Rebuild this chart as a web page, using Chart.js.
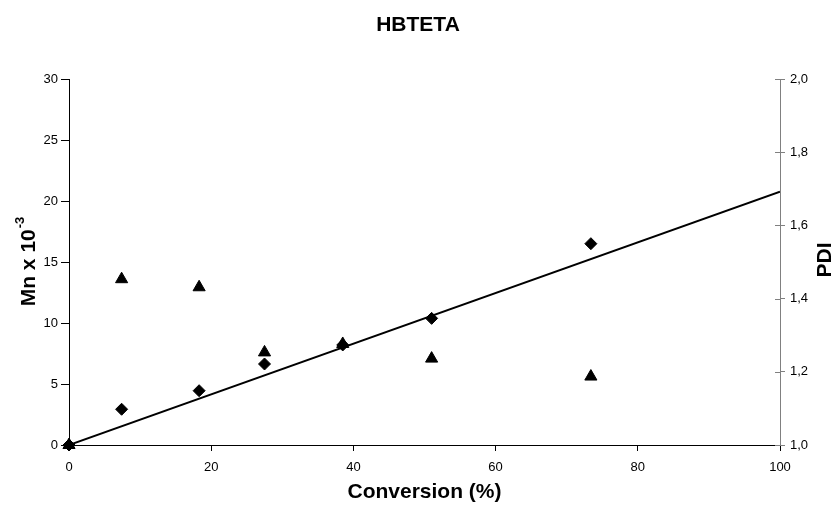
<!DOCTYPE html>
<html>
<head>
<meta charset="utf-8">
<script src="https://cdn.jsdelivr.net/npm/chart.js@4.4.0/dist/chart.umd.min.js"></script>
<style>
  body { margin: 0; background: #fff; }
  canvas { display: block; }
</style>
</head>
<body>
<canvas id="myChart" width="836" height="507"></canvas>
<script>
// data
const conversion = [0, 7.4, 18.3, 27.5, 38.5, 51.0, 73.4];
const mnValues = [0, 2.93, 4.45, 6.64, 8.2, 10.38, 16.5];
const pdiValues = [1.0, 1.453, 1.431, 1.253, 1.276, 1.236, 1.187];
const trendX = [0, 100];
const trendY = [0, 20.76];

const FONT = '"Liberation Sans", Arial, sans-serif';

// y axis titles (left one needs a superscript, right one reads bottom-up)
const axisTitles = {
    id: 'axisTitles',
    afterDraw(chart) {
        const ctx = chart.ctx;
        const area = chart.chartArea;
        const midY = (area.top + area.bottom) / 2;
        ctx.save();
        ctx.fillStyle = '#000';
        ctx.textBaseline = 'middle';
        ctx.textAlign = 'left';

        ctx.save();
        ctx.translate(29, midY);
        ctx.rotate(-Math.PI / 2);
        ctx.font = 'bold 21px ' + FONT;
        const main = 'Mn x 10';
        const w1 = ctx.measureText(main).width;
        ctx.font = 'bold 13px ' + FONT;
        const w2 = ctx.measureText('-3').width;
        const x0 = -(w1 + w2) / 2;
        ctx.font = 'bold 21px ' + FONT;
        ctx.fillText(main, x0, 0);
        ctx.font = 'bold 13px ' + FONT;
        ctx.fillText('-3', x0 + w1 + 1, -9);
        ctx.restore();

        ctx.save();
        ctx.translate(825, midY - 2);
        ctx.rotate(-Math.PI / 2);
        ctx.font = 'bold 21px ' + FONT;
        ctx.textAlign = 'center';
        ctx.fillText('PDI', 0, 0);
        ctx.restore();

        // small inward ticks on the right axis
        const y1 = chart.scales.y1;
        ctx.strokeStyle = '#808080';
        ctx.lineWidth = 1;
        y1.ticks.forEach(t => {
            const py = Math.round(y1.getPixelForValue(t.value)) + 0.5;
            ctx.beginPath();
            ctx.moveTo(area.right - 5, py);
            ctx.lineTo(area.right, py);
            ctx.stroke();
        });
        ctx.restore();
    }
};

const ctx = document.getElementById('myChart');
const myChart = new Chart(ctx, {
    type: 'scatter',
    data: {
        datasets: [
            {
                label: 'trend',
                data: trendX.map((x, i) => ({x: x, y: trendY[i]})),
                showLine: true,
                borderColor: '#000',
                borderWidth: 2,
                pointRadius: 0,
                yAxisID: 'y',
                order: 0
            },
            {
                label: 'Mn',
                data: conversion.map((x, i) => ({x: x, y: mnValues[i]})),
                pointStyle: 'rectRot',
                pointRadius: 6,
                backgroundColor: '#000',
                borderColor: '#000',
                borderWidth: 1,
                yAxisID: 'y',
                clip: false,
                order: 1
            },
            {
                label: 'PDI',
                data: conversion.map((x, i) => ({x: x, y: pdiValues[i]})),
                pointStyle: 'triangle',
                pointRadius: 7,
                backgroundColor: '#000',
                borderColor: '#000',
                borderWidth: 1,
                yAxisID: 'y1',
                clip: false,
                order: 2
            }
        ]
    },
    options: {
        responsive: false,
        animation: false,
        layout: { padding: 0 },
        plugins: {
            legend: { display: false },
            tooltip: { enabled: false },
            title: {
                display: true,
                text: 'HBTETA',
                color: '#000',
                font: { family: FONT, size: 21, weight: 'bold' },
                padding: { top: 13, bottom: 40.8 }
            }
        },
        scales: {
            x: {
                type: 'linear',
                min: 0,
                max: 100,
                ticks: { stepSize: 20, color: '#000', padding: 9, font: { family: FONT, size: 13 } },
                grid: { drawOnChartArea: false, tickLength: 6, color: '#000' },
                border: { color: '#000', width: 1 },
                title: {
                    display: true,
                    text: 'Conversion (%)',
                    color: '#000',
                    font: { family: FONT, size: 21, weight: 'bold' },
                    padding: { top: 0, bottom: 2 }
                },
                afterFit: (scale) => { scale.height = 62; }
            },
            y: {
                position: 'left',
                min: 0,
                max: 30,
                ticks: { stepSize: 5, color: '#000', padding: 3, font: { family: FONT, size: 13 } },
                grid: { drawOnChartArea: false, tickLength: 8, color: '#000' },
                border: { color: '#000', width: 1 },
                afterFit: (scale) => { scale.width = 69; }
            },
            y1: {
                position: 'right',
                min: 1,
                max: 2,
                ticks: {
                    stepSize: 0.2,
                    color: '#000',
                    padding: 5,
                    font: { family: FONT, size: 13 },
                    callback: (v) => v.toFixed(1).replace('.', ',')
                },
                grid: { drawOnChartArea: false, tickLength: 5, color: '#808080' },
                border: { color: '#808080', width: 1 },
                afterFit: (scale) => { scale.width = 56; }
            }
        }
    },
    plugins: [axisTitles]
});
</script>
</body>
</html>
